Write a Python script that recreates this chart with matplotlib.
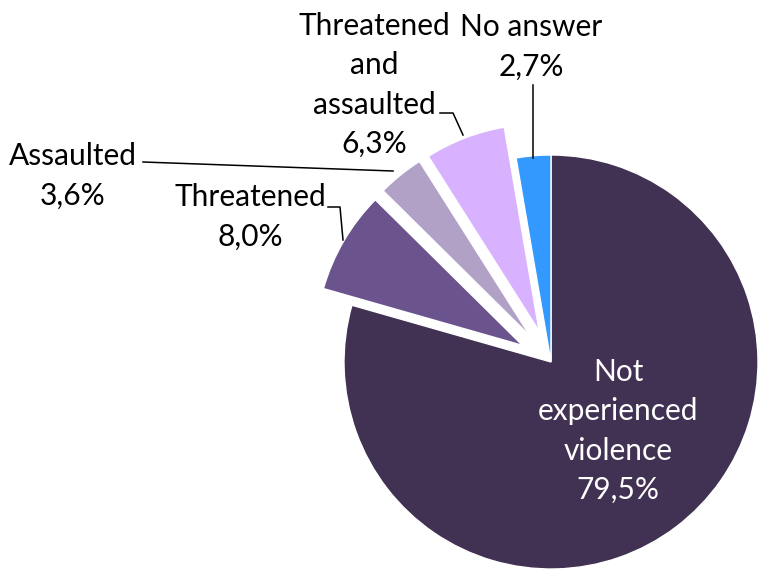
import matplotlib
matplotlib.use("Agg")
import matplotlib.pyplot as plt

# survey answers, clockwise from 12 o'clock
labels = ["Not\nexperienced\nviolence", "Threatened", "Assaulted", "Threatened\nand\nassaulted", "No answer"]
shares = [79.5, 8.0, 3.6, 6.3, 2.7]
colors = ["#413152", "#6b548e", "#b2a1c7", "#d8b2fe", "#3499fe"]

plt.rcParams["font.family"] = ["Lato", "DejaVu Sans"]

fig = plt.figure(figsize=(7.58, 5.71), dpi=100)
ax = fig.add_axes([0, 0, 1, 1])

# pie centre and radius in pixel units; explode is an absolute offset here
cx, cy, r = 551, -362, 207
explode = [0, 33, 33, 33, 0]
ax.pie(
    shares,
    colors=colors,
    explode=explode,
    startangle=90,
    counterclock=False,
    center=(cx, cy),
    radius=r,
    wedgeprops=dict(edgecolor="white", linewidth=1),
    frame=True,
)
ax.set_xlim(0, 758)
ax.set_ylim(-571, 0)
ax.set_aspect("equal")
ax.axis("off")


def pct(v):
    return f"{v:.1f}%".replace(".", ",")


# label centres (x, y) for each slice
label_pos = [(618, 431), (250, 217), (73, 176), (374, 85), (531, 47)]
for i, (lab, val) in enumerate(zip(labels, shares)):
    x, y = label_pos[i]
    ax.text(x, -y, f"{lab}\n{pct(val)}", ha="center", va="center",
            fontsize=21.5, linespacing=1.5,
            color="white" if i == 0 else "black")

# leader lines
leaders = [
    [(328, 207), (340, 207), (343, 240)],
    [(143, 162), (393, 171)],
    [(440, 113), (453, 113), (463, 135)],
    [(533, 85), (533, 158)],
]
for pts in leaders:
    xs = [p[0] for p in pts]
    ys = [-p[1] for p in pts]
    ax.plot(xs, ys, color="black", linewidth=1.1)

fig.savefig("out.png", dpi=100)
